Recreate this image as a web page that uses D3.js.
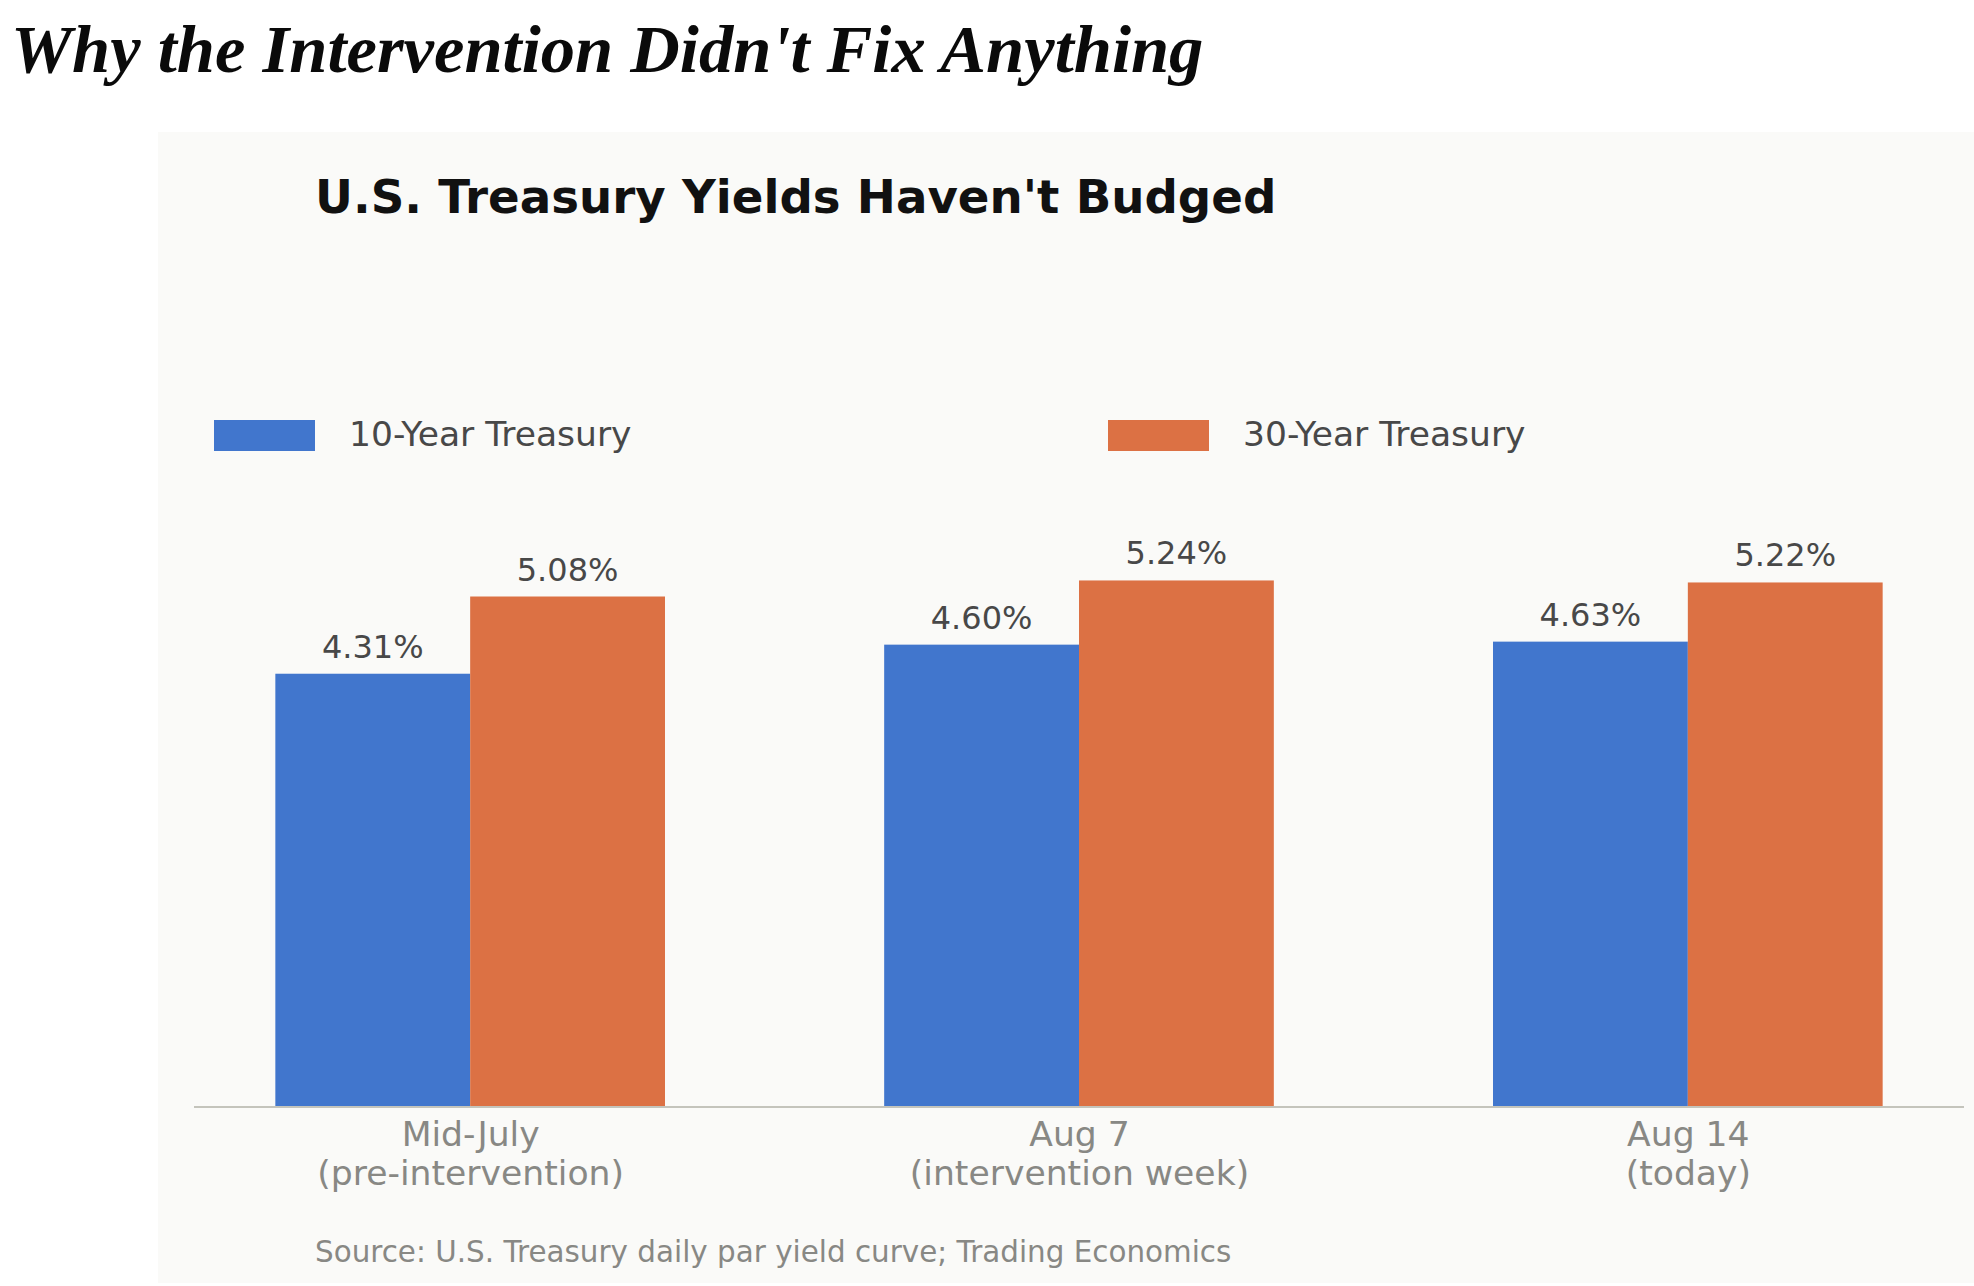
<!DOCTYPE html>
<html lang="en">
  <head>
    <meta charset="UTF-8" />
    <title>Why the Intervention Didn't Fix Anything</title>
    <script src="https://d3js.org/d3.v7.min.js"></script>
    <style>
      body {
        margin: 0;
        background: #ffffff;
      }
      svg text {
        font-family: "DejaVu Sans", sans-serif;
      }
    </style>
  </head>
  <body>
    <svg id="chart" width="1974" height="1286"></svg>

    <script>
      // Data
      const categories = ["Mid-July", "Aug 7", "Aug 14"];
      const subLabels = ["(pre-intervention)", "(intervention week)", "(today)"];
      const seriesNames = ["10-Year Treasury", "30-Year Treasury"];
      const tenYear = [4.31, 4.6, 4.63];
      const thirtyYear = [5.08, 5.24, 5.22];

      const colors = ["#4176cd", "#dc7144"];
      const barWidth = 0.32;

      const svg = d3.select("#chart");

      // Main headline
      svg
        .append("text")
        .attr("x", 11)
        .attr("y", 72)
        .style("font-family", '"Liberation Serif", serif')
        .style("font-weight", "bold")
        .style("font-style", "italic")
        .style("font-size", "68.6px")
        .attr("fill", "#0a0a0a")
        .text("Why the Intervention Didn't Fix Anything");

      // Chart panel
      svg
        .append("rect")
        .attr("x", 158)
        .attr("y", 132)
        .attr("width", 1974 - 158)
        .attr("height", 1283 - 132)
        .attr("fill", "#fafaf8");

      svg
        .append("text")
        .attr("x", 315)
        .attr("y", 213)
        .style("font-weight", "bold")
        .style("font-size", "46.7px")
        .attr("fill", "#111")
        .text("U.S. Treasury Yields Haven't Budged");

      // Scales (index based, like the original axes limits)
      const x = d3
        .scaleLinear()
        .domain([-0.4536, 2.4536])
        .range([194, 1964]);

      const y = d3.scaleLinear().domain([0, 6.8]).range([1106, 424]);

      const series = [tenYear, thirtyYear];

      // Bars
      series.forEach((values, s) => {
        svg
          .append("g")
          .selectAll("rect")
          .data(values)
          .enter()
          .append("rect")
          .attr("x", (d, i) => x(i + (s - 1) * barWidth))
          .attr("width", (d, i) => x(i + barWidth) - x(i))
          .attr("y", (d) => y(d))
          .attr("height", (d) => y(0) - y(d))
          .attr("fill", colors[s]);

        // Value labels
        svg
          .append("g")
          .selectAll("text")
          .data(values)
          .enter()
          .append("text")
          .attr("x", (d, i) => x(i + (s - 0.5) * barWidth))
          .attr("y", (d) => y(d) - 16)
          .attr("text-anchor", "middle")
          .style("font-size", "32px")
          .attr("fill", "#484848")
          .text((d) => d.toFixed(2) + "%");
      });

      // X axis
      const xAxis = svg
        .append("g")
        .attr("transform", `translate(0,${y(0)})`)
        .call(
          d3
            .axisBottom(x)
            .tickValues(d3.range(categories.length))
            .tickSize(0)
            .tickFormat((i) => categories[i])
        );

      xAxis.select(".domain").remove();
      svg
        .append("line")
        .attr("x1", x.range()[0])
        .attr("x2", x.range()[1])
        .attr("y1", y(0) + 1)
        .attr("y2", y(0) + 1)
        .attr("stroke", "#c4c4bc")
        .attr("stroke-width", 2);

      xAxis
        .selectAll(".tick text")
        .attr("fill", "#888884")
        .style("font-family", '"DejaVu Sans", sans-serif')
        .style("font-size", "34.6px")
        .attr("dy", null)
        .attr("y", 40)
        .each(function (i) {
          const t = d3.select(this);
          t.text(null);
          t.append("tspan").attr("x", 0).text(categories[i]);
          t.append("tspan").attr("x", 0).attr("dy", 39).text(subLabels[i]);
        });

      // Legend
      const legendX = [214, 1108];
      seriesNames.forEach((name, s) => {
        const g = svg
          .append("g")
          .attr("transform", `translate(${legendX[s]},420)`);
        g.append("rect")
          .attr("width", 101)
          .attr("height", 31)
          .attr("fill", colors[s]);
        g.append("text")
          .attr("x", 135)
          .attr("y", 26)
          .style("font-size", "34.5px")
          .attr("fill", "#484848")
          .text(name);
      });

      // Source note
      svg
        .append("text")
        .attr("x", 315)
        .attr("y", 1262)
        .style("font-size", "29.4px")
        .attr("fill", "#888884")
        .text("Source: U.S. Treasury daily par yield curve; Trading Economics");
    </script>
  </body>
</html>
